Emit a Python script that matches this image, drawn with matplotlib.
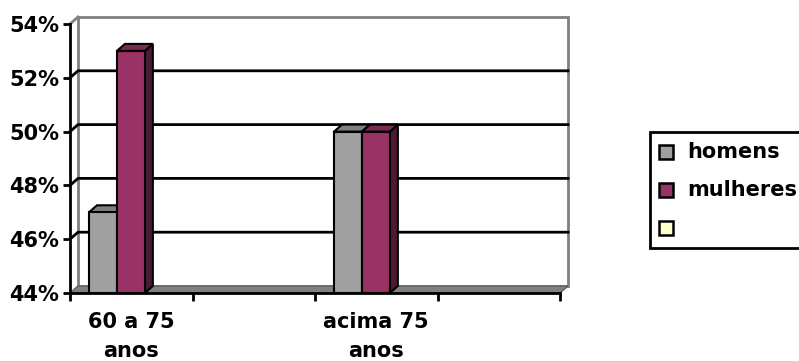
import matplotlib.pyplot as plt
from matplotlib.patches import Polygon, Rectangle

categories = ["60 a 75\nanos", "", "acima 75\nanos", ""]
homens = [47, None, 50, None]
mulheres = [53, None, 50, None]
series_names = ["homens", "mulheres", ""]
y_ticks = [44, 46, 48, 50, 52, 54]

front_colors = ["#a0a0a0", "#993366", "#ffffcc"]
top_colors = ["#808080", "#7a2952", "#ccccaa"]
side_colors = ["#606060", "#4d1a33", "#999980"]

W, H = 799, 361
fig = plt.figure(figsize=(W / 100, H / 100), dpi=100)
# front plane of the 3d box, in pixels
x0, x1, yb, yt = 70, 560, 293, 24
ax = fig.add_axes([x0 / W, (H - yb) / H, (x1 - x0) / W, (yb - yt) / H])
ymin, ymax = 44, 54
ax.set_xlim(0, len(categories))
ax.set_ylim(ymin, ymax)

# depth offset converted from pixels to data units
px_x = len(categories) / (x1 - x0)
px_y = (ymax - ymin) / (yb - yt)
dx, dy = 8 * px_x, 7 * px_y
n = len(categories)

# back wall
ax.add_patch(Polygon([(dx, ymin + dy), (n + dx, ymin + dy), (n + dx, ymax + dy), (dx, ymax + dy)],
                     closed=True, fc="white", ec="#808080", lw=2, clip_on=False, zorder=1))
ax.plot([0, dx], [ymax, ymax + dy], color="#808080", lw=2, clip_on=False, zorder=1)
# gridlines on side and back wall
for y in y_ticks[1:-1]:
    ax.plot([0, dx, n + dx], [y, y + dy, y + dy], color="black", lw=2,
            clip_on=False, zorder=2)
# floor
ax.add_patch(Polygon([(0, ymin), (n, ymin), (n + dx, ymin + dy), (dx, ymin + dy)],
                     closed=True, fc="#808080", ec="#606060", lw=1, clip_on=False, zorder=2))

# bars
bar_w = 0.228
start = 0.155
for s, vals in enumerate([homens, mulheres]):
    for i, v in enumerate(vals):
        if v is None:
            continue
        left = i + start + s * bar_w
        right = left + bar_w
        ax.add_patch(Polygon([(right, ymin), (right + dx, ymin + dy), (right + dx, v + dy), (right, v)],
                             closed=True, fc=side_colors[s], ec="black", lw=1.5,
                             clip_on=False, zorder=3 + s))
        ax.add_patch(Polygon([(left, v), (right, v), (right + dx, v + dy), (left + dx, v + dy)],
                             closed=True, fc=top_colors[s], ec="black", lw=1.5,
                             clip_on=False, zorder=3 + s))
        ax.bar(left, v - ymin, bottom=ymin, width=bar_w, align="edge",
               color=front_colors[s], edgecolor="black", lw=1.5, zorder=3 + s, clip_on=False)

for side in ["top", "right"]:
    ax.spines[side].set_visible(False)
for side in ["left", "bottom"]:
    ax.spines[side].set_linewidth(2)
    ax.spines[side].set_zorder(6)
ax.set_facecolor("none")

ax.set_yticks(y_ticks)
ax.set_yticklabels([f"{t}%" for t in y_ticks])
ax.set_xticks(range(n + 1))
ax.set_xticklabels([""] * (n + 1))
ax.set_xticks([i + 0.5 for i in range(n)], minor=True)
ax.set_xticklabels(categories, minor=True, linespacing=1.55)
ax.tick_params(axis="y", length=5, width=2, pad=3, labelsize=15)
ax.tick_params(axis="x", which="major", length=6, width=2)
ax.tick_params(axis="x", which="minor", length=0, pad=14, labelsize=15)
for lab in ax.get_yticklabels() + ax.get_xticklabels(minor=True):
    lab.set_fontweight("bold")

# legend box, runs past the right edge like the original
fig.patches.append(Rectangle((650 / W, 1 - 248 / H), 170 / W, (248 - 132) / H,
                             transform=fig.transFigure, fc="white", ec="black", lw=2))
for k, name in enumerate(series_names):
    yc = 152 + k * 38
    fig.patches.append(Rectangle((659 / W, 1 - (yc + 7) / H), 14 / W, 14 / H,
                                 transform=fig.transFigure, fc=front_colors[k], ec="black", lw=1.8))
    fig.text(687 / W, 1 - yc / H, name, fontsize=15, fontweight="bold", va="center", ha="left")

fig.savefig("out.png", dpi=100)
